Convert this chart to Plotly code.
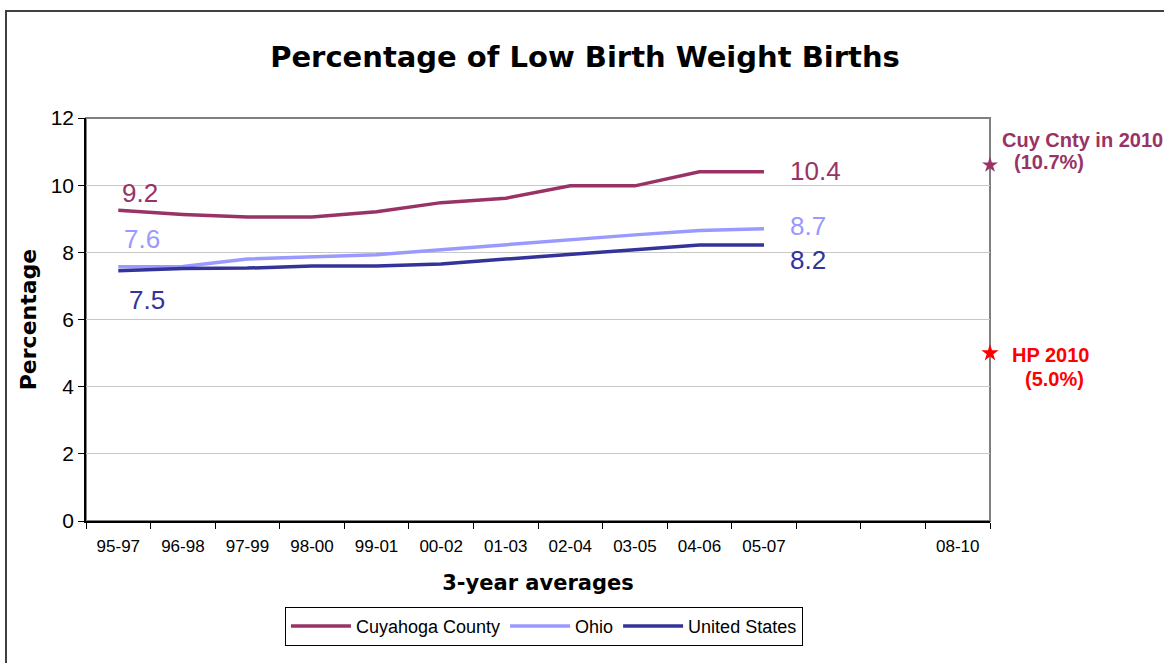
import plotly.graph_objects as go

categories = ["95-97", "96-98", "97-99", "98-00", "99-01", "00-02", "01-03",
              "02-04", "03-05", "04-06", "05-07", "06-08", "07-09", "08-10"]
tick_labels = ["95-97", "96-98", "97-99", "98-00", "99-01", "00-02", "01-03",
               "02-04", "03-05", "04-06", "05-07", "", "", "08-10"]
cuyahoga = [9.25, 9.13, 9.05, 9.05, 9.21, 9.48, 9.61, 9.98, 9.98, 10.4, 10.4]
ohio = [7.57, 7.58, 7.80, 7.87, 7.93, 8.08, 8.23, 8.37, 8.52, 8.65, 8.7]
united_states = [7.45, 7.52, 7.53, 7.59, 7.59, 7.65, 7.80, 7.95, 8.08, 8.22, 8.22]
series_names = ["Cuyahoga County", "Ohio", "United States"]
colors = ["#993366", "#9999FF", "#333399"]
target_cuy = 10.6
target_hp = 5.0

FONT = "Liberation Sans, Arial, sans-serif"
WIDE = "DejaVu Sans, Liberation Sans, Arial, sans-serif"
xs = list(range(len(cuyahoga)))

fig = go.Figure()
for name, vals, col in zip(series_names, [cuyahoga, ohio, united_states], colors):
    fig.add_trace(go.Scatter(x=xs, y=vals, mode="lines", name=name,
                             line=dict(color=col, width=3.5), cliponaxis=False))

x_end = len(categories) - 0.5
fig.add_trace(go.Scatter(x=[x_end], y=[target_cuy], mode="markers", showlegend=False,
                         marker=dict(symbol="star", size=12, color="#993366"),
                         cliponaxis=False))
fig.add_trace(go.Scatter(x=[x_end], y=[target_hp], mode="markers", showlegend=False,
                         marker=dict(symbol="star", size=13, color="#FF0000"),
                         cliponaxis=False))

ann = []
def lab(x, y, text, color, xs_, ys_, xanchor="center", size=26, bold=False):
    t = f"<b>{text}</b>" if bold else text
    ann.append(dict(x=x, y=y, xref="x", yref="y", text=t, showarrow=False,
                    xanchor=xanchor, yanchor="middle", xshift=xs_, yshift=ys_,
                    font=dict(family=FONT, size=size, color=color)))

last = len(cuyahoga) - 1
lab(0, cuyahoga[0], "9.2", colors[0], 22, 17)
lab(0, ohio[0], "7.6", colors[1], 24, 28)
lab(0, united_states[0], "7.5", colors[2], 29, -29)
lab(last, cuyahoga[last], "10.4", colors[0], 24, 1, xanchor="left")
lab(last, ohio[last], "8.7", colors[1], 24, 3, xanchor="left")
lab(last, united_states[last], "8.2", colors[2], 24, -15, xanchor="left")

lab(x_end, target_cuy, "Cuy Cnty in 2010", "#993366", 10, 25, xanchor="left", size=20, bold=True)
lab(x_end, target_cuy, "(10.7%)", "#993366", 22, 3, xanchor="left", size=20, bold=True)
lab(x_end, target_hp, "HP 2010", "#FF0000", 20, -2, xanchor="left", size=20, bold=True)
lab(x_end, target_hp, "(5.0%)", "#FF0000", 33, -26, xanchor="left", size=20, bold=True)

W, H = 1164, 663
fig.update_layout(
    width=W, height=H,
    margin=dict(l=86, r=174, t=118, b=142),
    paper_bgcolor="white", plot_bgcolor="white",
    font=dict(family=FONT, color="black"),
    title=dict(text="<b>Percentage of Low Birth Weight Births</b>",
               x=585 / W, xanchor="center", y=1 - 57 / H, yanchor="middle",
               yref="container", font=dict(family=WIDE, size=29, color="black")),
    showlegend=True,
    legend=dict(orientation="h", x=0.5066, xanchor="center", y=-0.213, yanchor="top",
                bordercolor="black", borderwidth=1, bgcolor="white",
                font=dict(family=FONT, size=18, color="black"),
                itemwidth=60),
    annotations=ann,
    shapes=[
        dict(type="rect", xref="paper", yref="paper", x0=0, x1=1, y0=0, y1=1,
             line=dict(color="#808080", width=2), layer="below"),
        dict(type="rect", xref="paper", yref="paper", x0=-0.0885, x1=1.4, y0=-0.6, y1=1.2655,
             line=dict(color="#404040", width=2), layer="below"),
    ],
)

fig.update_xaxes(
    range=[-0.5, len(categories) - 0.5],
    tickmode="array", tickvals=list(range(len(categories))), ticktext=tick_labels,
    ticks="", showgrid=False, zeroline=False,
    showline=True, linecolor="black", linewidth=1.5,
    tickfont=dict(family=FONT, size=17, color="black"),
    ticklabelstandoff=9,
    minor=dict(tick0=-0.5, dtick=1, ticks="outside", ticklen=6, tickcolor="black", showgrid=False),
    title=dict(text="<b>3-year averages</b>", font=dict(family=WIDE, size=21, color="black"),
               standoff=20),
)
fig.update_yaxes(
    range=[0, 12], dtick=2, tick0=0,
    ticks="outside", ticklen=6, tickcolor="black",
    showgrid=True, gridcolor="#C8C8C8", gridwidth=1, zeroline=False,
    showline=True, linecolor="black", linewidth=1.5,
    tickfont=dict(family=FONT, size=21, color="black"),
    title=dict(text="<b>Percentage</b>", font=dict(family=WIDE, size=22, color="black"),
               standoff=8),
)

fig.write_html("out.html", config={"displayModeBar": False},
               post_script="document.body.style.margin='0';document.body.style.overflow='hidden';")
